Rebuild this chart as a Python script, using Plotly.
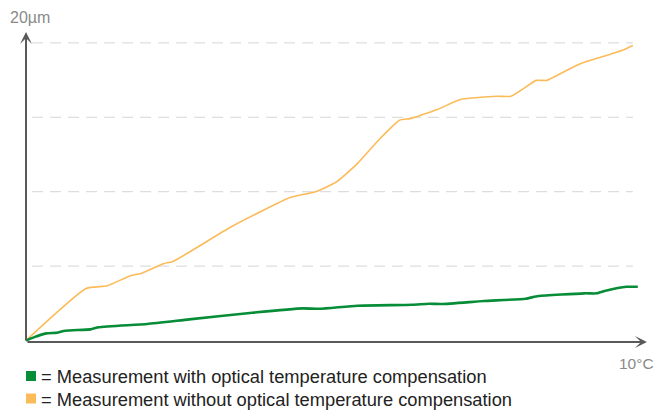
import plotly.graph_objects as go

# ---- data (x in °C, y in µm) ----
without_x = [0, 0.987, 1.331, 1.711, 1.884, 2.262, 2.400, 3.366, 4.331, 4.744, 5.089, 5.433,
             5.779, 6.123, 6.295, 6.467, 6.743, 7.123, 7.708, 7.949, 8.156, 8.364, 8.536,
             8.811, 9.087, 9.431, 9.777, 9.949]
without_y = [0, 3.50, 3.68, 4.35, 4.51, 5.18, 5.29, 7.64, 9.61, 9.99, 10.66, 11.89,
             13.46, 14.80, 14.91, 15.13, 15.52, 16.19, 16.41, 16.41, 16.93, 17.48, 17.48,
             18.04, 18.60, 19.05, 19.50, 19.83]

with_x = [0, 0.125, 0.333, 0.505, 0.643, 1.056, 1.193, 1.987, 2.675, 3.710, 4.538, 4.813,
          5.433, 6.330, 6.605, 6.811, 7.502, 8.192, 8.398, 9.156, 9.362, 9.502, 9.846, 10.03]
with_y = [0, 0.21, 0.48, 0.52, 0.66, 0.75, 0.89, 1.11, 1.42, 1.87, 2.16, 2.13,
          2.34, 2.40, 2.47, 2.45, 2.65, 2.81, 2.99, 3.17, 3.17, 3.34, 3.61, 3.61]

grid_vals = [5, 10, 15, 20]
x_label = "10°C"
y_label = "20µm"
legend_labels = ["= Measurement with optical temperature compensation",
                 "= Measurement without optical temperature compensation"]

GREEN = "#078C37"
ORANGE = "#FBBB58"
AXIS = "#595959"
GRID = "#d6d6d6"
LABEL = "#8a8a8a"

W, H = 657, 418
L, R, T, B = 20, 7, 28, 73
X_RANGE = [-0.0984, 10.23]
Y_RANGE = [-0.302, 21.0]


def px_x(px):
    return (px - L) / (W - L - R)


def px_y(py):
    return (H - B - py) / (H - T - B)


fig = go.Figure()
fig.add_trace(go.Scatter(x=without_x, y=without_y, mode="lines",
                         line=dict(color=ORANGE, width=1.6, shape="spline", smoothing=0.5),
                         showlegend=False, hoverinfo="skip"))
fig.add_trace(go.Scatter(x=with_x, y=with_y, mode="lines",
                         line=dict(color=GREEN, width=2.6, shape="spline", smoothing=0.5),
                         showlegend=False, hoverinfo="skip"))

shapes = []
for g in grid_vals:
    shapes.append(dict(type="line", xref="x", yref="y", x0=0.1, x1=9.95, y0=g, y1=g,
                       line=dict(color=GRID, width=1, dash="11px,7px"), layer="below"))

# legend squares
for color, cy in [(GREEN, 376), (ORANGE, 398.5)]:
    shapes.append(dict(type="rect", xref="paper", yref="paper",
                       x0=px_x(26), x1=px_x(36), y0=px_y(cy + 5), y1=px_y(cy - 5),
                       fillcolor=color, line=dict(width=0)))

annotations = []
# axis arrows
annotations.append(dict(x=0, y=20.73, ax=0, ay=-0.1, xref="x", yref="y", axref="x", ayref="y",
                        text="", showarrow=True, arrowhead=3, arrowsize=1, arrowwidth=2,
                        arrowcolor=AXIS))
annotations.append(dict(x=10.18, y=-0.1, ax=0, ay=-0.1, xref="x", yref="y", axref="x", ayref="y",
                        text="", showarrow=True, arrowhead=3, arrowsize=1, arrowwidth=2,
                        arrowcolor=AXIS))
# axis labels
annotations.append(dict(x=px_x(29.5), y=px_y(17), xref="paper", yref="paper", text=y_label,
                        showarrow=False, xanchor="center", yanchor="middle",
                        font=dict(family="Liberation Sans, Arial", size=16, color=LABEL)))
annotations.append(dict(x=px_x(636), y=px_y(363), xref="paper", yref="paper", text=x_label,
                        showarrow=False, xanchor="center", yanchor="middle",
                        font=dict(family="Liberation Sans, Arial", size=15.5, color=LABEL)))
# legend texts
for txt, cy in zip(legend_labels, [376, 399]):
    annotations.append(dict(x=px_x(39), y=px_y(cy), xref="paper", yref="paper", text=txt,
                            showarrow=False, xanchor="left", yanchor="middle",
                            font=dict(family="Liberation Sans, Arial", size=18.3, color="#222222")))

fig.update_layout(
    width=W, height=H,
    margin=dict(l=L, r=R, t=T, b=B),
    paper_bgcolor="white", plot_bgcolor="white",
    xaxis=dict(range=X_RANGE, visible=False, fixedrange=True),
    yaxis=dict(range=Y_RANGE, visible=False, fixedrange=True),
    shapes=shapes, annotations=annotations,
    showlegend=False,
)

fig.write_html("out.html", config={"displayModeBar": False},
               post_script="document.body.style.margin='0';document.body.style.padding='0';")
